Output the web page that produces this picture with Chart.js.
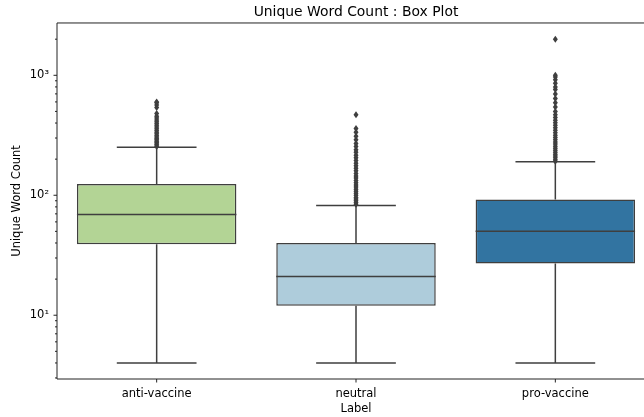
<!DOCTYPE html>
<html lang="en">
<head>
    <meta charset="UTF-8">
    <title>Unique Word Count : Box Plot</title>
    <script src="https://cdn.jsdelivr.net/npm/chart.js"></script>
    <style>
        html, body { margin: 0; padding: 0; overflow: hidden; background: #fff; }
        canvas { display: block; }
    </style>
</head>
<body>
<canvas id="boxChart" width="660" height="417"></canvas>
<script>
    // values (log scale)
    const labels = ['anti-vaccine', 'neutral', 'pro-vaccine'];
    const whiskerLow = [4, 4, 4];
    const q1 = [39, 12, 27];
    const median = [69, 21, 50];
    const q3 = [124, 40, 92];
    const whiskerHigh = [251, 82, 190];
    const fillColors = ['#b3d495', '#aeccdb', '#3274a1'];

    const outliersAnti = [255, 262, 268, 275, 282, 290, 298, 306, 315, 325, 335, 346, 358, 370, 383, 396,
        410, 425, 440, 455, 480, 540, 565, 590, 600];
    const outliersNeutral = [84, 87, 90, 93, 96, 100, 104, 108, 112, 117, 122, 127, 133, 139, 145, 152, 160,
        168, 176, 185, 195, 205, 216, 228, 240, 255, 270, 290, 310, 335, 360, 470];
    const outliersPro = [192, 198, 205, 212, 220, 228, 237, 246, 256, 267, 278, 290, 303, 317, 332, 348, 365,
        383, 402, 423, 445, 470, 500, 545, 590, 640, 700, 760, 800, 860, 920, 970, 1000, 2000];
    const outliers = [outliersAnti, outliersNeutral, outliersPro];

    const yMin = 2.94;
    const yMax = 2730;
    const lineColor = '#3f3f3f';
    const font = 'DejaVu Sans';

    const supers = {'0': '\u2070', '1': '\u00b9', '2': '\u00b2', '3': '\u00b3'};

    // whiskers, medians, fliers and axis frame
    const boxExtras = {
        id: 'boxExtras',
        afterDatasetsDraw(chart) {
            const ctx = chart.ctx;
            const x = chart.scales.x;
            const y = chart.scales.y;
            const meta = chart.getDatasetMeta(0);
            ctx.save();
            ctx.strokeStyle = lineColor;
            ctx.lineWidth = 1.5;
            labels.forEach((lab, i) => {
                const cx = x.getPixelForValue(i);
                const half = meta.data[i].width / 2;
                const cap = half / 2;
                ctx.beginPath();
                ctx.moveTo(cx, y.getPixelForValue(q1[i]));
                ctx.lineTo(cx, y.getPixelForValue(whiskerLow[i]));
                ctx.moveTo(cx, y.getPixelForValue(q3[i]));
                ctx.lineTo(cx, y.getPixelForValue(whiskerHigh[i]));
                ctx.moveTo(cx - cap, y.getPixelForValue(whiskerLow[i]));
                ctx.lineTo(cx + cap, y.getPixelForValue(whiskerLow[i]));
                ctx.moveTo(cx - cap, y.getPixelForValue(whiskerHigh[i]));
                ctx.lineTo(cx + cap, y.getPixelForValue(whiskerHigh[i]));
                ctx.moveTo(cx - half, y.getPixelForValue(median[i]));
                ctx.lineTo(cx + half, y.getPixelForValue(median[i]));
                ctx.stroke();

                ctx.fillStyle = lineColor;
                outliers[i].forEach(v => {
                    const py = y.getPixelForValue(v);
                    ctx.beginPath();
                    ctx.moveTo(cx, py - 3.5);
                    ctx.lineTo(cx + 2.5, py);
                    ctx.lineTo(cx, py + 3.5);
                    ctx.lineTo(cx - 2.5, py);
                    ctx.closePath();
                    ctx.fill();
                });
            });

            // spines
            const a = chart.chartArea;
            ctx.strokeStyle = '#222';
            ctx.lineWidth = 1;
            ctx.beginPath();
            ctx.moveTo(a.right + 2, a.top);
            ctx.lineTo(a.left, a.top);
            ctx.lineTo(a.left, a.bottom);
            ctx.lineTo(a.right + 2, a.bottom);
            ctx.stroke();

            // tick marks
            ctx.beginPath();
            labels.forEach((lab, i) => {
                const px = x.getPixelForValue(i);
                ctx.moveTo(px, a.bottom);
                ctx.lineTo(px, a.bottom + 3.5);
            });
            for (let p = 0; p <= 3; p++) {
                for (let m = 1; m <= 9; m++) {
                    const v = m * Math.pow(10, p);
                    if (v < yMin || v > yMax) continue;
                    const py = y.getPixelForValue(v);
                    ctx.moveTo(a.left, py);
                    ctx.lineTo(a.left - (m === 1 ? 3.5 : 2), py);
                }
            }
            ctx.stroke();
            ctx.restore();
        }
    };

    new Chart(document.getElementById('boxChart'), {
        type: 'bar',
        data: {
            labels: labels,
            datasets: [{
                data: labels.map((l, i) => [q1[i], q3[i]]),
                backgroundColor: fillColors,
                borderColor: lineColor,
                borderWidth: 1.5,
                borderSkipped: false,
                barPercentage: 1.0,
                categoryPercentage: 0.8
            }]
        },
        options: {
            responsive: false,
            animation: false,
            layout: { padding: { left: 0, right: 5, top: 0, bottom: 0 } },
            plugins: {
                legend: { display: false },
                tooltip: { enabled: false },
                title: {
                    display: true,
                    text: 'Unique Word Count : Box Plot',
                    fullSize: false,
                    color: '#000',
                    font: { family: font, size: 13.9, weight: 'normal' },
                    padding: { top: 4.2, bottom: 2.1 }
                }
            },
            scales: {
                x: {
                    grid: { display: false },
                    border: { display: false },
                    ticks: { color: '#000', padding: 0, font: { family: font, size: 11.5 } },
                    title: {
                        display: true, text: 'Label', color: '#000',
                        font: { family: font, size: 11.5 }, padding: { top: 3, bottom: 1.5 }
                    },
                    afterFit(scale) { scale.height = 38; }
                },
                y: {
                    type: 'logarithmic',
                    min: yMin,
                    max: yMax,
                    grid: { display: false },
                    border: { display: false },
                    ticks: {
                        color: '#000',
                        padding: 0,
                        autoSkip: false,
                        font: { family: font, size: 11.5 },
                        callback: function (value) {
                            const e = Math.log10(value);
                            if (Math.abs(e - Math.round(e)) < 1e-9) {
                                return '10' + supers[String(Math.round(e))];
                            }
                            return '';
                        }
                    },
                    title: {
                        display: true, text: 'Unique Word Count', color: '#000',
                        font: { family: font, size: 11.5 }, padding: { top: 10.5, bottom: 0 }
                    },
                    afterFit(scale) { scale.width = 57; }
                }
            }
        },
        plugins: [boxExtras]
    });
</script>
</body>
</html>
